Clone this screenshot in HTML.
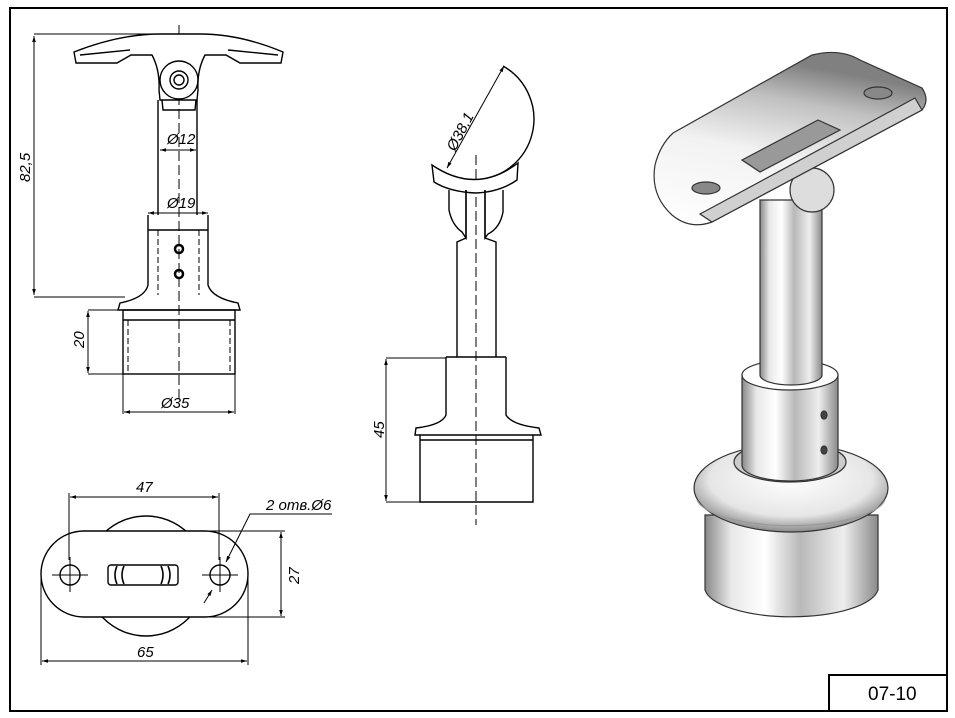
<!DOCTYPE html>
<html><head><meta charset="utf-8"><style>
html,body{margin:0;padding:0;background:#fff;}
svg{display:block;}
text{font-family:"Liberation Sans",sans-serif;font-style:italic;fill:#000;}
</style></head><body>
<svg width="955" height="718" viewBox="0 0 955 718" xmlns="http://www.w3.org/2000/svg">
<defs>
<marker id="a" viewBox="0 0 10 10" refX="10" refY="5" markerWidth="8" markerHeight="6" orient="auto-start-reverse"><path d="M0,2 L10,5 L0,8z" fill="#000"/></marker>
<linearGradient id="cyl" x1="0" x2="1" y1="0" y2="0">
<stop offset="0" stop-color="#888"/><stop offset="0.15" stop-color="#e8e8e8"/><stop offset="0.35" stop-color="#fff"/><stop offset="0.55" stop-color="#b8b8b8"/><stop offset="0.8" stop-color="#eee"/><stop offset="1" stop-color="#8a8a8a"/></linearGradient>
<linearGradient id="plate" x1="0" x2="0.3" y1="1" y2="0">
<stop offset="0" stop-color="#fff"/><stop offset="0.5" stop-color="#f2f2f2"/><stop offset="0.8" stop-color="#c0c0c0"/><stop offset="1" stop-color="#808080"/></linearGradient>
<radialGradient id="fl" cx="0.5" cy="0.4" r="0.6"><stop offset="0" stop-color="#fff"/><stop offset="0.7" stop-color="#e6e6e6"/><stop offset="1" stop-color="#8a8a8a"/></radialGradient>
</defs>
<rect x="0" y="0" width="955" height="718" fill="#fff"/>
<rect x="10" y="8" width="937" height="703" fill="none" stroke="#000" stroke-width="2"/>
<rect x="829" y="675" width="118" height="36" fill="none" stroke="#000" stroke-width="2"/>
<text x="868" y="700" font-size="19" style="font-style:normal">07-10</text>

<g fill="none" stroke="#000" stroke-width="1.4">
<line x1="179" y1="25" x2="179" y2="400" stroke-dasharray="10,4" stroke-width="1"/>
<path d="M74,52 Q120,34 160,34 L200,34 Q240,34 283,52 L281,63 L240,63 L226,55 L205,55 Q197,70 198,90 L197,100 L160,100 L159,90 Q160,70 152,55 L131,55 L117,63 L76,63 Z" fill="#fff"/>
<path d="M80,55 L130,50 M228,50 L278,55" />
<circle cx="179" cy="80" r="19"/><circle cx="179" cy="80" r="9"/><circle cx="179" cy="80" r="5"/>
<path d="M162,100 L163,110 L195,110 L196,100"/>
<line x1="158" y1="100" x2="158" y2="215"/><line x1="197" y1="100" x2="197" y2="215"/>
<path d="M148,215 L148,285 Q145,298 120,303 L118,310 L240,310 L238,303 Q212,298 208,285 L208,215"/>
<line x1="148" y1="230" x2="208" y2="230"/>
<path d="M158,230 L158,295 M199,230 L199,295" stroke-dasharray="6,3" stroke-width="1"/>
<circle cx="179" cy="249" r="4" stroke-width="2.5"/><circle cx="179" cy="274" r="4" stroke-width="2.5"/>
<rect x="123" y="310" width="112" height="64"/>
<line x1="123" y1="320" x2="235" y2="320"/>
<path d="M128,320 L128,372 M230,320 L230,372" stroke-dasharray="6,3" stroke-width="1"/>
<line x1="34" y1="34" x2="160" y2="34" stroke-width="1"/>
<line x1="34" y1="297" x2="125" y2="297" stroke-width="1"/>
<line x1="34" y1="36" x2="34" y2="295" stroke-width="1" marker-start="url(#a)" marker-end="url(#a)"/>
<line x1="160" y1="150" x2="196" y2="150" stroke-width="1" marker-start="url(#a)" marker-end="url(#a)"/>
<line x1="148" y1="213" x2="208" y2="213" stroke-width="1" marker-start="url(#a)" marker-end="url(#a)"/>
<line x1="88" y1="310" x2="123" y2="310" stroke-width="1"/>
<line x1="88" y1="374" x2="123" y2="374" stroke-width="1"/>
<line x1="88" y1="311" x2="88" y2="373" stroke-width="1" marker-start="url(#a)" marker-end="url(#a)"/>
<line x1="123" y1="374" x2="123" y2="414" stroke-width="1"/><line x1="235" y1="374" x2="235" y2="414" stroke-width="1"/>
<line x1="124" y1="412" x2="234" y2="412" stroke-width="1" marker-start="url(#a)" marker-end="url(#a)"/>

<line x1="476" y1="155" x2="476" y2="525" stroke-dasharray="10,4" stroke-width="1"/>
<path d="M503,66 A61,61 0 0 1 476,180"/>
<path d="M432,165 Q476,195 518,163 L517,180 Q500,192 476,193 Q450,192 434,182 Z" fill="#fff"/>
<path d="M449,190 L449,210 Q452,225 462,232 L466,238 L466,190 M503,190 L503,212 Q500,228 488,234 L485,238 L485,190"/>
<path d="M466,190 L466,238 L457,242 L457,357 M485,190 L485,238 L496,242 L496,357"/>
<path d="M446,357 L506,357 M446,357 L446,415 Q442,425 416,428 L415,435 L541,435 L539,428 Q512,425 506,415 L506,357"/>
<path d="M420,435 L420,502 L533,502 L533,435 M420,440 L533,440"/>
<line x1="386" y1="358" x2="446" y2="358" stroke-width="1"/>
<line x1="386" y1="502" x2="420" y2="502" stroke-width="1"/>
<line x1="386" y1="359" x2="386" y2="501" stroke-width="1" marker-start="url(#a)" marker-end="url(#a)"/>
<line x1="504" y1="66" x2="447" y2="168" stroke-width="1" marker-start="url(#a)" marker-end="url(#a)"/>

<circle cx="146" cy="576" r="60" fill="#fff"/>
<path d="M84,531 L205,531 A43,43 0 0 1 205,617 L84,617 A43,43 0 0 1 84,531 Z" fill="#fff"/>
<circle cx="70" cy="575" r="10"/><circle cx="220" cy="575" r="10"/>
<path d="M52,575 L88,575 M202,575 L238,575 M70,557 L70,592 M220,557 L220,592" stroke-width="1"/>
<rect x="108" y="565" width="70" height="20" rx="3"/>
<path d="M117,566 Q113,575 117,584 M124,566 Q120,575 124,584 M161,566 Q165,575 161,584 M168,566 Q172,575 168,584" stroke-width="1.6"/>
<line x1="69" y1="493" x2="69" y2="560" stroke-width="1"/><line x1="219" y1="493" x2="219" y2="560" stroke-width="1"/>
<line x1="70" y1="497" x2="218" y2="497" stroke-width="1" marker-start="url(#a)" marker-end="url(#a)"/>
<line x1="41" y1="575" x2="41" y2="665" stroke-width="1"/><line x1="248" y1="575" x2="248" y2="665" stroke-width="1"/>
<line x1="42" y1="661" x2="247" y2="661" stroke-width="1" marker-start="url(#a)" marker-end="url(#a)"/>
<line x1="205" y1="531" x2="285" y2="531" stroke-width="1"/><line x1="205" y1="617" x2="285" y2="617" stroke-width="1"/>
<line x1="281" y1="532" x2="281" y2="616" stroke-width="1" marker-start="url(#a)" marker-end="url(#a)"/>
<path d="M332,514 L250,514 L226,562" stroke-width="1" marker-end="url(#a)"/>
<path d="M204,603 L212,590" stroke-width="1" marker-end="url(#a)"/>
</g>
<text x="167" y="144" font-size="15">Ø12</text>
<text x="167" y="208" font-size="15">Ø19</text>
<text x="161" y="408" font-size="15">Ø35</text>
<text font-size="15" transform="translate(30,182) rotate(-90)">82,5</text>
<text font-size="15" transform="translate(84,348) rotate(-90)">20</text>
<text font-size="15" transform="translate(384,438) rotate(-90)">45</text>
<text font-size="15" transform="translate(455,152) rotate(-62)">Ø38,1</text>
<text x="136" y="492" font-size="15">47</text>
<text x="137" y="657" font-size="15">65</text>
<text font-size="15" transform="translate(299,584) rotate(-90)">27</text>
<text x="266" y="510" font-size="15">2 отв.Ø6</text>

<g stroke="#333" stroke-width="1.2">
<path d="M705,515 L705,590 A87,30 0 0 0 878,590 L878,515 Z" fill="url(#cyl)"/>
<ellipse cx="791" cy="488" rx="97" ry="44" fill="url(#fl)"/>
<path d="M697,500 A95,30 0 0 0 885,500" fill="none" stroke="#999"/>
<ellipse cx="790" cy="462" rx="56" ry="20" fill="#ccc"/>
<path d="M742,375 L742,465 A48,16 0 0 0 838,465 L838,375 Z" fill="url(#cyl)"/>
<ellipse cx="790" cy="375" rx="48" ry="15" fill="#fff"/>
<path d="M760,200 L760,375 A31,10 0 0 0 822,375 L822,200 Z" fill="url(#cyl)"/>
<ellipse cx="824" cy="415" rx="3" ry="4" fill="#444"/><ellipse cx="824" cy="450" rx="3" ry="4" fill="#444"/>
<circle cx="812" cy="190" r="22" fill="#ddd"/>
<path d="M673,133 L812,55 Q840,48 860,60 L922,88 Q930,100 922,110 L712,222 Q690,230 672,215 Q650,195 655,165 Q660,145 673,133 Z" fill="url(#plate)"/>
<path d="M700,214 L915,98 L922,110 L712,222 Z" fill="#d0d0d0"/>
<path d="M742,160 L818,120 L840,130 L760,172 Z" fill="#999"/>
<ellipse cx="706" cy="188" rx="14" ry="6" fill="#888"/>
<ellipse cx="878" cy="93" rx="14" ry="6" fill="#888"/>
</g>
</svg>
</body></html>
